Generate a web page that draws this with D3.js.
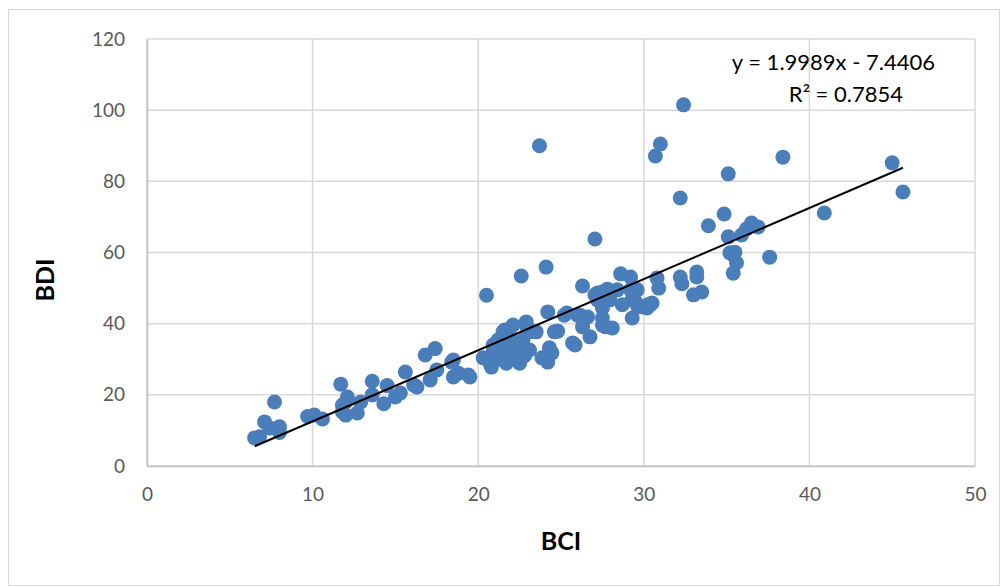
<!DOCTYPE html>
<html>
<head>
<meta charset="utf-8">
<script src="https://cdn.jsdelivr.net/npm/d3@7/dist/d3.min.js"></script>
<style>
  html, body { margin: 0; padding: 0; background: #fff; }
  svg text { font-family: Lato, "Open Sans", "Liberation Sans", sans-serif; }
</style>
</head>
<body>
<svg id="chart" width="1004" height="587"></svg>
<script>
// BCI values (x) for each observation
const bci = [
  6.5, 6.8, 7.1, 7.7, 8.0, 8.0, 7.4, 9.7, 10.1, 10.6,
  11.7, 11.8, 12.0, 11.8, 12.0, 12.7, 12.1, 12.9, 13.6, 13.6,
  14.3, 14.5, 15.0, 15.3, 15.6, 16.1, 16.3, 16.8, 17.4, 17.1,
  17.5, 18.4, 18.5, 18.8, 19.4, 18.5, 19.5,
  20.5, 20.3, 20.7, 20.8, 20.9, 20.9, 21.2, 21.5, 21.6, 21.7,
  21.7, 21.9, 22.1, 22.3, 22.5, 22.5, 22.5, 22.7, 22.9, 22.95,
  22.95, 23.1, 23.1, 23.5, 22.6, 23.7, 24.1, 23.85, 24.2, 24.3,
  24.45, 24.2, 24.6, 24.8, 25.2, 25.35, 25.7, 25.85, 26.0, 26.15,
  26.3, 26.3, 26.6, 26.75, 27.05, 27.05, 27.2, 27.2, 27.5, 27.5,
  27.5, 27.5, 27.7, 27.8, 27.95, 28.1, 28.4, 28.6, 28.7, 29.2,
  29.2, 29.3, 29.3, 29.35, 29.5, 29.6, 29.65, 29.95, 30.2, 30.25,
  30.4, 30.5, 30.7, 30.8, 30.9, 31.0, 32.2, 32.2, 32.3, 32.4,
  33.0, 33.2, 33.2, 33.5, 33.9, 34.85, 35.1, 35.1, 35.2, 35.4,
  35.4, 35.5, 35.6, 35.9, 36.2, 36.5, 36.9, 37.6, 38.4, 40.9,
  45.0, 45.65,
  21.0, 21.4, 21.9, 22.2, 22.8, 21.3
];
// BDI values (y) for the same observations
const bdi = [
  7.9, 8.2, 12.4, 18.0, 11.0, 9.4, 10.7, 13.9, 14.3, 13.2,
  23.0, 17.1, 18.0, 15.2, 14.3, 14.9, 19.4, 18.0, 23.8, 20.0,
  17.5, 22.6, 19.4, 20.5, 26.4, 22.8, 22.2, 31.2, 33.0, 24.2,
  27.0, 29.2, 25.0, 26.1, 25.6, 29.8, 25.0,
  48.0, 30.4, 28.9, 27.8, 32.0, 34.0, 35.4, 37.7, 38.2, 30.6,
  28.9, 34.6, 39.6, 34.6, 31.8, 30.6, 28.9, 35.4, 40.5, 39.1,
  32.6, 32.6, 37.7, 37.7, 53.4, 90.0, 55.9, 30.4, 29.2, 33.2,
  31.8, 43.3, 37.7, 37.9, 42.4, 43.0, 34.6, 34.0, 42.4, 42.4,
  39.1, 50.6, 41.9, 36.3, 63.8, 48.1, 48.6, 46.7, 48.9, 44.4,
  41.6, 39.6, 39.1, 49.7, 46.7, 38.8, 49.5, 54.0, 45.3, 53.1,
  49.5, 46.7, 41.6, 50.3, 46.1, 49.5, 44.7, 44.7, 44.4, 45.3,
  45.3, 45.8, 87.1, 52.8, 50.0, 90.5, 75.3, 53.1, 51.2, 101.5,
  48.1, 54.5, 53.1, 48.9, 67.5, 70.8, 82.1, 64.4, 59.9, 59.3,
  54.2, 60.1, 57.1, 64.9, 66.6, 68.3, 67.2, 58.7, 86.8, 71.1,
  85.2, 77.0,
  31.5, 33.0, 36.5, 32.5, 31.0, 30.0
];

// Axis ticks
const xTicks = [0, 10, 20, 30, 40, 50];
const yTicks = [0, 20, 40, 60, 80, 100, 120];

// Linear trendline coefficients
const slope = 1.9989;
const intercept = -7.4406;
const r2 = 0.7854;

const points = bci.map((x, i) => ({ x, y: bdi[i] }));

const svg = d3.select("#chart");

// Outer chart frame
svg.append("rect")
  .attr("x", 8.5).attr("y", 9.5)
  .attr("width", 991).attr("height", 576)
  .attr("fill", "#fff")
  .attr("stroke", "#d9d9d9").attr("stroke-width", 1);

const plot = { left: 147, right: 975, top: 39, bottom: 466 };

const x = d3.scaleLinear().domain([0, 50]).range([plot.left, plot.right]);
const y = d3.scaleLinear().domain([0, 120]).range([plot.bottom, plot.top]);

// Gridlines
const grid = svg.append("g");
grid.selectAll("line.h").data(yTicks).join("line")
  .attr("x1", plot.left).attr("x2", plot.right)
  .attr("y1", d => y(d)).attr("y2", d => y(d))
  .attr("stroke", "#d9d9d9").attr("stroke-width", 1.5);
grid.selectAll("line.v").data(xTicks).join("line")
  .attr("y1", plot.top).attr("y2", plot.bottom)
  .attr("x1", d => x(d)).attr("x2", d => x(d))
  .attr("stroke", "#d9d9d9").attr("stroke-width", 1.5);

// Axes (tick labels only, light axis lines)
const xAxis = d3.axisBottom(x).tickValues(xTicks).tickSize(0).tickPadding(22);
const gx = svg.append("g").attr("transform", `translate(0,${plot.bottom})`).call(xAxis);
gx.select(".domain").attr("stroke", "#bfbfbf").attr("stroke-width", 1.5);
gx.selectAll("text").attr("fill", "#595959").attr("font-size", 19)
  .attr("font-family", "Lato, 'Open Sans', sans-serif");

const yAxis = d3.axisLeft(y).tickValues(yTicks).tickSize(0).tickPadding(22);
const gy = svg.append("g").attr("transform", `translate(${plot.left},0)`).call(yAxis);
gy.select(".domain").attr("stroke", "#bfbfbf").attr("stroke-width", 1.5);
gy.selectAll("text").attr("fill", "#595959").attr("font-size", 19)
  .attr("font-family", "Lato, 'Open Sans', sans-serif");

// Scatter markers
svg.append("g").selectAll("circle").data(points).join("circle")
  .attr("cx", d => x(d.x)).attr("cy", d => y(d.y))
  .attr("r", 7.5)
  .attr("fill", "#4a7ebb");

// Trendline across the data range
const [xmin, xmax] = d3.extent(bci);
svg.append("line")
  .attr("x1", x(xmin)).attr("y1", y(slope * xmin + intercept))
  .attr("x2", x(xmax)).attr("y2", y(slope * xmax + intercept))
  .attr("stroke", "#000").attr("stroke-width", 2);

// Trendline equation and R²
const fmt = d3.format(".4f");
svg.append("text")
  .attr("x", 935).attr("y", 70)
  .attr("text-anchor", "end")
  .attr("font-size", 22).attr("fill", "#000")
  .text(`y = ${fmt(slope)}x - ${fmt(-intercept)}`);
svg.append("text")
  .attr("x", 903).attr("y", 102)
  .attr("text-anchor", "end")
  .attr("font-size", 22).attr("fill", "#000")
  .text(`R² = ${fmt(r2)}`);

// Axis titles
svg.append("text")
  .attr("x", 561).attr("y", 550)
  .attr("text-anchor", "middle")
  .attr("font-size", 25).attr("font-weight", "bold").attr("fill", "#000")
  .text("BCI");
svg.append("text")
  .attr("transform", "translate(54,280) rotate(-90)")
  .attr("text-anchor", "middle")
  .attr("font-size", 25).attr("font-weight", "bold").attr("fill", "#000")
  .text("BDI");
</script>
</body>
</html>
